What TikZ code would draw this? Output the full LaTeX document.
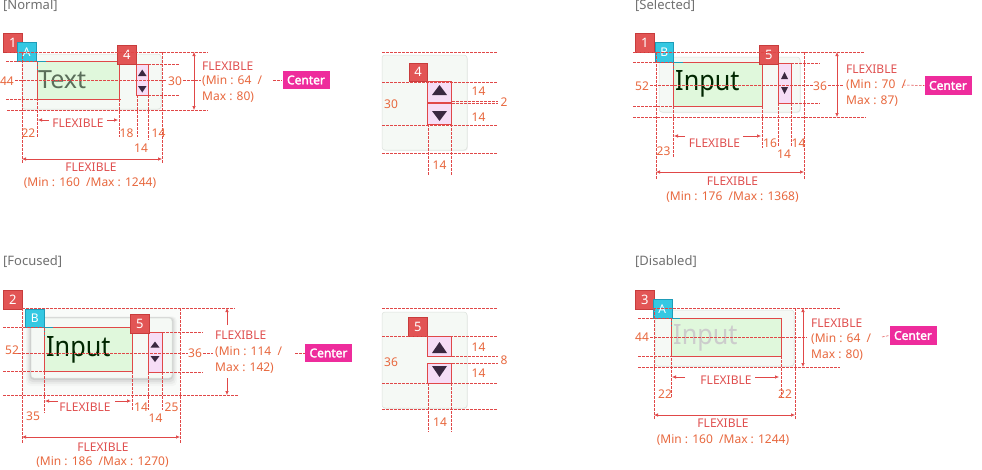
\documentclass[tikz,border=0pt]{standalone}
\usepackage{fontspec}
\setmainfont{Noto Sans}[AutoFakeBold=2.2]
\usetikzlibrary{arrows.meta,shadows}
\definecolor{dimred}{HTML}{E04848}
\definecolor{lblc}{HTML}{E8683E}
\definecolor{flexc}{HTML}{E05050}
\definecolor{badgered}{HTML}{E25555}
\definecolor{badgeedge}{HTML}{C83C3C}
\definecolor{cyanb}{HTML}{34C8E2}
\definecolor{cyanedge}{HTML}{1E9CB8}
\definecolor{greenf}{HTML}{E0F8DC}
\definecolor{panelf}{HTML}{F5F9F5}
\definecolor{paneledge}{HTML}{DCE2DC}
\definecolor{pinkf}{HTML}{F6DDF6}
\definecolor{trif}{HTML}{3A2840}
\definecolor{centerbg}{HTML}{EE2C9C}
\definecolor{headgray}{HTML}{707070}
\definecolor{normtxt}{HTML}{5A6E5A}
\newcommand\uptri[4]{\fill[trif] (#1,#4) -- (#2,#4) -- ({(#1+#2)/2},#3) -- cycle;}
\newcommand\dntri[4]{\fill[trif] (#1,#3) -- (#2,#3) -- ({(#1+#2)/2},#4) -- cycle;}
\tikzset{
 dimln/.style={draw=dimred, line width=0.55pt, dash pattern=on 2.5pt off 1.5pt},
 dimarr/.style={draw=dimred, line width=0.6pt, {Latex[length=4pt,width=3.5pt]}-{Latex[length=4pt,width=3.5pt]}},
 halfarr/.style={draw=dimred, line width=0.6pt, -{Latex[length=4pt,width=3.5pt]}},
 num/.style={inner sep=0, text=lblc, font=\fontsize{12}{12}\selectfont},
 flex/.style={inner sep=0, text=flexc, font=\fontsize{12}{12}\selectfont},
 head/.style={inner sep=0, anchor=west, text=headgray, font=\fontsize{13}{13}\selectfont},
 badge/.style={fill=badgered, draw=badgeedge, line width=0.5pt, inner sep=0, anchor=north west,
   minimum width=19pt, minimum height=19pt, text=white, font=\fontsize{13}{13}\selectfont},
 cbadge/.style={fill=cyanb, draw=cyanedge, line width=0.5pt, inner sep=0, anchor=north west,
   minimum width=19pt, minimum height=19pt, text=white, font=\fontsize{12}{12}\selectfont},
 panel/.style={fill=panelf, draw=paneledge, line width=0.5pt, rounded corners=3pt,
   drop shadow={opacity=0.12, shadow xshift=0.8pt, shadow yshift=-1pt}},
 inbox/.style={fill=greenf, draw=dimred, line width=0.8pt},
 spinbox/.style={fill=pinkf, draw=dimred, line width=0.8pt},
 corner/.style={draw=cyanedge, line width=1pt},
 bigtxt/.style={inner sep=0, anchor=west, font=\fontsize{28}{28}\selectfont},
 centerlbl/.style={fill=centerbg, text=white, font=\fontsize{12}{12}\selectfont\bfseries,
   inner sep=0, minimum width=47pt, minimum height=18.5pt},
}
\begin{document}
\begin{tikzpicture}[x=1pt,y=-1pt]
\useasboundingbox[fill=white] (0,0) rectangle (982,469);

%%%%%%%%%%%%%%%% NORMAL
\node[head] (hN) at (3,6) {[Normal]};
\draw[panel] (22,54) rectangle (161,109);
\draw[inbox] (37,61) rectangle (119,99);
\node[bigtxt, text=normtxt, font=\fontsize{25}{25}\selectfont] (tN) at (38,80) {Text};
\draw[spinbox] (136,64) rectangle (148,95);
\uptri{138}{146.5}{69.5}{76}
\dntri{138}{146.5}{86}{92.5}
\node[badge] (bN1) at (3,33) {1};
\node[cbadge] (bNA) at (17,42) {A};
\draw[corner] (37,71) -- (37,61.5) -- (46,61.5);
\node[badge] (bN4) at (117,45) {4};
\draw[dimln] (7,52) -- (208,52);
\draw[dimln] (6,61) -- (37,61);
\draw[dimln] (148,64) -- (180,64);
\draw[dimln] (15,80) -- (167,80);
\draw[dimln] (183,80) -- (201,80);
\draw[dimln] (148,95) -- (180,95);
\draw[dimln] (6,99) -- (121,99);
\draw[dimln] (7,110) -- (208,110);
\draw[dimln] (22,52) -- (22,163);
\draw[dimln] (37,62) -- (37,137);
\draw[dimln] (119,99) -- (119,137);
\draw[dimln] (137,95) -- (137,137);
\draw[dimln] (148,95) -- (148,140);
\draw[dimln] (162,52) -- (162,163);
\draw[dimarr] (194,52) -- (194,110);
\node[num] (nN44) at (7,81) {44};
\node[num] (nN30) at (175,81) {30};
\node[num] (nN22) at (28.5,133) {22};
\node[num] (nN18) at (126.5,133) {18};
\node[num] (nN14a) at (158.5,133) {14};
\node[num] (nN14b) at (141,148) {14};
\node[flex] (fNi) at (78,123) {FLEXIBLE};
\draw[halfarr] (49,120) -- (38,120);
\draw[halfarr] (107,120) -- (118,120);
\draw[dimarr] (22,159) -- (162,159);
\node[flex] (fNb) at (91,167) {FLEXIBLE};
\node[num] (mNb) at (90,183) {(Min : 160 \ /Max : 1244)};
\node[flex, anchor=west] (fNr1) at (202,66) {FLEXIBLE};
\node[num, anchor=west] (fNr2) at (202,81) {(Min : 64 \ /};
\node[num, anchor=west] (fNr3) at (202,97) {Max : 80)};
\node[centerlbl] (cN) at (306,80) {Center};
\draw[dimln] (273,80) -- (cN.west);

%%%%%%%%%%%%%%%% NORMAL DETAIL
\draw[panel] (382,55) rectangle (467,150);
\node[badge, minimum width=18.5pt, minimum height=18.5pt] (bD4) at (408.5,62.5) {4};
\draw[spinbox] (427,81) rectangle (451,102);
\draw[spinbox] (427,103.5) rectangle (451,124);
\uptri{432}{447}{85}{95}
\dntri{432}{447}{111}{121}
\draw[dimln] (382,52) -- (497,52);
\draw[dimln] (382,82) -- (497,82);
\draw[dimln] (452,101) -- (498,101);
\draw[dimln] (452,103.5) -- (498,103.5);
\draw[dimln] (382,125) -- (497,125);
\draw[dimln] (382,153) -- (497,153);
\draw[dimln] (428,124) -- (428,175);
\draw[dimln] (451,124) -- (451,175);
\node[num] (nD30) at (391,104) {30};
\node[num] (nD14a) at (478.5,91) {14};
\node[num] (nD2) at (504,102) {2};
\node[num] (nD14b) at (478.5,117) {14};
\node[num] (nD14c) at (439.5,165) {14};

%%%%%%%%%%%%%%%% SELECTED
\node[head] (hS) at (635,6) {[Selected]};
\draw[panel] (659,57) rectangle (800,112);
\draw[inbox] (673,62) rectangle (762,106);
\node[bigtxt, text=black!85!green] (tS) at (675,84) {\scalebox{0.9}[1]{Input}};
\draw[spinbox] (778,63) rectangle (791,103);
\uptri{781}{788}{72}{79}
\dntri{781}{788}{87}{94}
\node[badge] (bS1) at (635,33) {1};
\node[cbadge, minimum width=18pt, minimum height=20pt] (bSB) at (655,42) {B};
\draw[corner] (673,72) -- (673,62.5) -- (683,62.5);
\node[badge] (bS5) at (759,45) {5};
\draw[dimln] (633,52) -- (865,52);
\draw[dimln] (633,62) -- (673,62);
\draw[dimln] (791,63) -- (820,63);
\draw[dimln] (650,85) -- (813,85);
\draw[dimln] (828,85) -- (843,85);
\draw[dimln] (633,106) -- (673,106);
\draw[dimln] (791,103) -- (820,103);
\draw[dimln] (633,117) -- (866,117);
\draw[dimln] (656,52) -- (656,180);
\draw[dimln] (673,62) -- (673,157);
\draw[dimln] (762,106) -- (762,148);
\draw[dimln] (778,103) -- (778,146);
\draw[dimln] (791,103) -- (791,146);
\draw[dimln] (804,52) -- (804,180);
\draw[dimarr] (837,52) -- (837,117);
\node[num] (nS52) at (642,86) {52};
\node[num] (nS36) at (820,86) {36};
\node[num] (nS23) at (663.5,151) {23};
\node[num] (nS16) at (770,143) {16};
\node[num] (nS14a) at (784,154) {14};
\node[num] (nS14b) at (798.5,143) {14};
\node[flex] (fSi) at (714.5,143) {FLEXIBLE};
\draw[halfarr] (685,136) -- (674,136);
\draw[halfarr] (743,136) -- (761,136);
\draw[dimarr] (656,172) -- (804,172);
\node[flex] (fSb) at (732.5,181) {FLEXIBLE};
\node[num] (mSb) at (732.5,197) {(Min : 176 \ /Max : 1368)};
\node[flex, anchor=west] (fSr1) at (846,69) {FLEXIBLE};
\node[num, anchor=west] (fSr2) at (846,85) {(Min : 70 \ /};
\node[num, anchor=west] (fSr3) at (846,101) {Max : 87)};
\node[centerlbl] (cS) at (948,85.5) {Center};
\draw[dimln] (903,85) -- (cS.west);

%%%%%%%%%%%%%%%% FOCUSED
\node[head] (hF) at (3,262) {[Focused]};
\fill[panelf!60!white] (22,308) rectangle (180,395);
\foreach \i/\o in {8/0.025,6/0.035,4/0.05,2/0.07}{
  \fill[black, opacity=\o, rounded corners=4pt] (31-\i*0.6,318-\i*0.2) rectangle (172+\i*0.6,378+\i);
}
\draw[fill=panelf, draw=paneledge, line width=0.5pt, rounded corners=3pt] (31,318) rectangle (172,378);
\draw[inbox] (44,327) rectangle (132,371);
\node[bigtxt, text=black!85!green] (tF) at (46,350) {\scalebox{0.9}[1]{Input}};
\draw[spinbox] (148,332) rectangle (162,372);
\uptri{150.5}{159.5}{341.5}{347.5}
\dntri{150.5}{159.5}{356}{362}
\node[badge] (bF2) at (3,290) {2};
\node[cbadge, minimum height=18pt] (bFB) at (25,309) {B};
\draw[corner] (44,337) -- (44,327.5) -- (53,327.5);
\node[badge] (bF5) at (130,314) {5};
\draw[dimln] (22,308) -- (235,308);
\draw[dimln] (3,327) -- (44,327);
\draw[dimln] (162,332) -- (203,332);
\draw[dimln] (18,353) -- (188,353);
\draw[dimln] (203,353) -- (213,353);
\draw[dimln] (3,371) -- (44,371);
\draw[dimln] (162,372) -- (203,372);
\draw[dimln] (3,395) -- (238,395);
\draw[dimln] (22,308) -- (22,443);
\draw[dimln] (44,328) -- (44,413);
\draw[dimln] (132,371) -- (132,410);
\draw[dimln] (148,372) -- (148,410);
\draw[dimln] (162,372) -- (162,410);
\draw[dimln] (180,308) -- (180,443);
\draw[halfarr] (227,325) -- (227,308);
\draw[halfarr] (227,378) -- (227,395);
\node[num] (nF52) at (12,350) {52};
\node[num] (nF36) at (195,353) {36};
\node[num] (nF35) at (33,416) {35};
\node[num] (nF14a) at (141,407) {14};
\node[num] (nF14b) at (155.5,418.5) {14};
\node[num] (nF25) at (171.5,407) {25};
\node[flex] (fFi) at (85,407) {FLEXIBLE};
\draw[halfarr] (58,401) -- (45,401);
\draw[halfarr] (115,401) -- (131,401);
\draw[dimarr] (22,437) -- (180,437);
\node[flex] (fFb) at (103,447) {FLEXIBLE};
\node[num] (mFb) at (102.5,462) {(Min : 186 \ /Max : 1270)};
\node[flex, anchor=west] (fFr1) at (215,335) {FLEXIBLE};
\node[num, anchor=west] (fFr2) at (215,352) {(Min : 114 \ /};
\node[num, anchor=west] (fFr3) at (215,368) {Max : 142)};
\node[centerlbl] (cF) at (328.5,353) {Center};
\draw[dimln] (295,353) -- (cF.west);

%%%%%%%%%%%%%%%% FOCUSED DETAIL
\draw[panel] (382,312) rectangle (467,408);
\node[badge] (bE5) at (408,317) {5};
\draw[spinbox] (427,336) rectangle (451,356);
\draw[spinbox] (427,363) rectangle (451,383);
\uptri{432}{447}{342}{353}
\dntri{432}{447}{366}{377}
\draw[dimln] (382,308) -- (497,308);
\draw[dimln] (382,336) -- (497,336);
\draw[dimln] (452,356) -- (498,356);
\draw[dimln] (452,363) -- (498,363);
\draw[dimln] (382,383) -- (497,383);
\draw[dimln] (382,409) -- (497,409);
\draw[dimln] (428,383) -- (428,432);
\draw[dimln] (451,383) -- (451,432);
\node[num] (nE36) at (391,362) {36};
\node[num] (nE14a) at (478.5,347) {14};
\node[num] (nE8) at (504,360) {8};
\node[num] (nE14b) at (478.5,373) {14};
\node[num] (nE14c) at (440,422) {14};

%%%%%%%%%%%%%%%% DISABLED
\node[head] (hX) at (635,262) {[Disabled]};
\draw[panel] (655,310) rectangle (794,366);
\draw[inbox] (671,318) rectangle (781,356);
\node[bigtxt, text=gray!40] (tX) at (673,338) {\scalebox{0.9}[1]{Input}};
\node[badge] (bX3) at (635,290) {3};
\node[cbadge] (bXA) at (652.5,299) {A};
\draw[corner] (671.5,327) -- (671.5,318.5) -- (680,318.5);
\draw[dimln] (653,308) -- (840,308);
\draw[dimln] (638,318) -- (671,318);
\draw[dimln] (650,337) -- (807,337);
\draw[dimln] (638,356) -- (671,356);
\draw[dimln] (638,367) -- (840,367);
\draw[dimln] (654,308) -- (654,420);
\draw[dimln] (671,318) -- (671,398);
\draw[dimln] (781,356) -- (781,398);
\draw[dimln] (795,308) -- (795,420);
\draw[dimarr] (803,308) -- (803,367);
\node[num] (nX44) at (642,337) {44};
\node[num] (nX22a) at (665,394) {22};
\node[num] (nX22b) at (785,394) {22};
\node[flex] (fXi) at (726,380) {FLEXIBLE};
\draw[halfarr] (685,377) -- (672,377);
\draw[halfarr] (755,377) -- (779,377);
\draw[dimarr] (654,415) -- (795,415);
\node[flex] (fXb) at (723,423) {FLEXIBLE};
\node[num] (mXb) at (723,440) {(Min : 160 \ /Max : 1244)};
\node[flex, anchor=west] (fXr1) at (811,323) {FLEXIBLE};
\node[num, anchor=west] (fXr2) at (811,339) {(Min : 64 \ /};
\node[num, anchor=west] (fXr3) at (811,355) {Max : 80)};
\node[centerlbl] (cX) at (913,335.5) {Center};
\draw[dimln] (882,337) -- (cX.west);
\end{tikzpicture}
\end{document}
